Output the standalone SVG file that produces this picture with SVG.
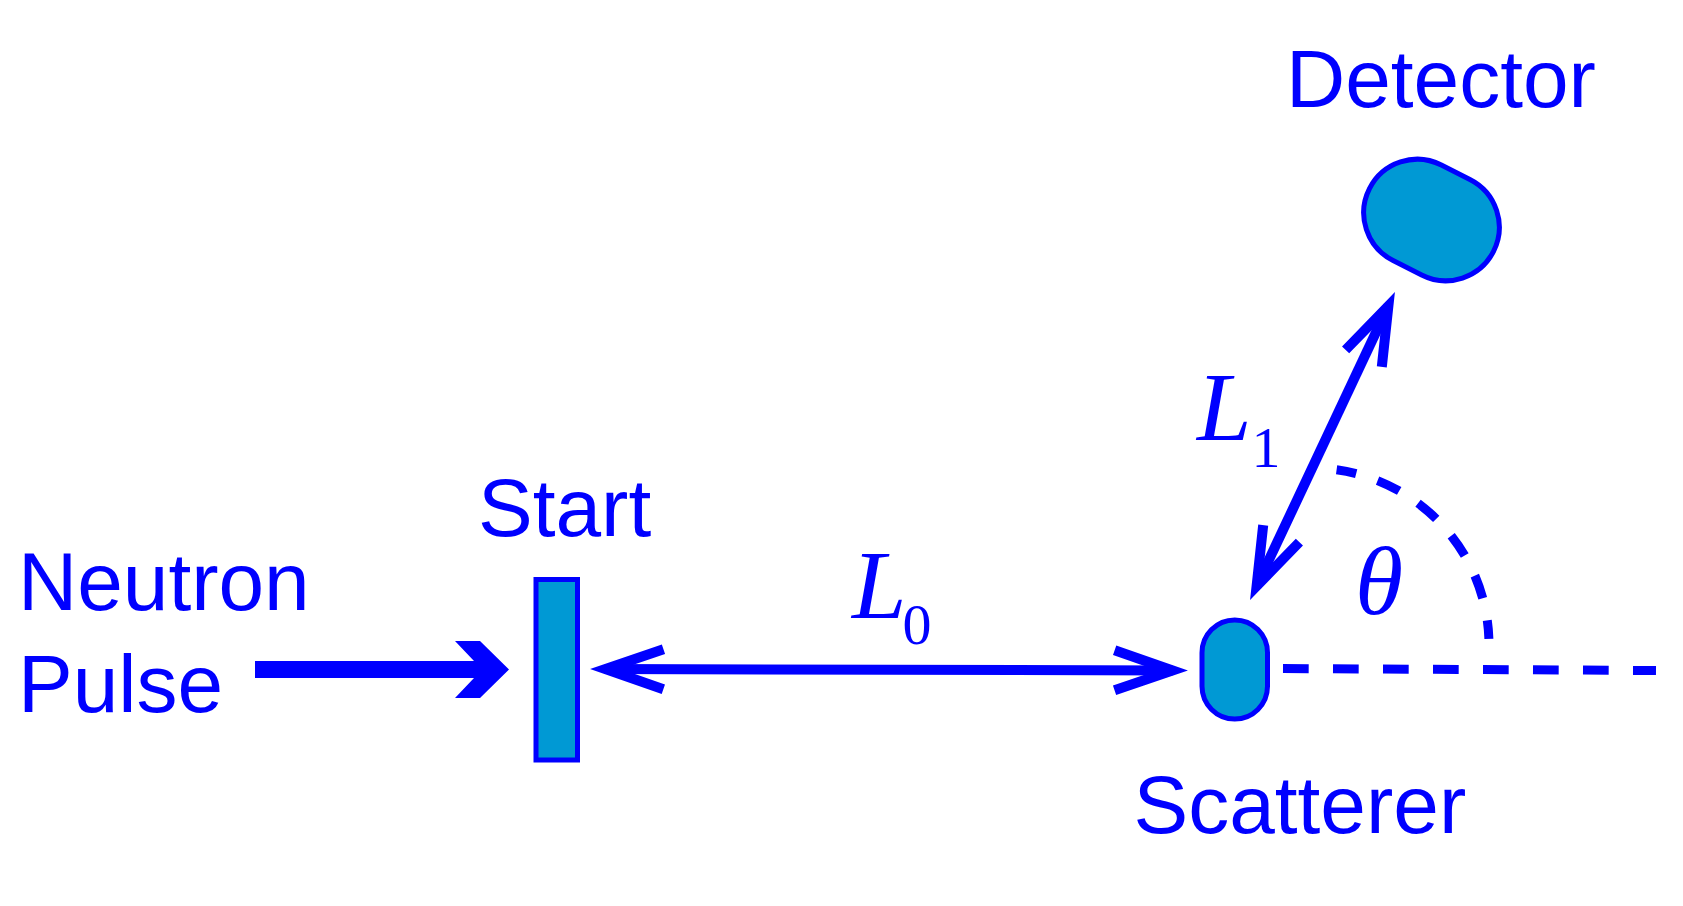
<svg xmlns="http://www.w3.org/2000/svg" width="1683" height="906" viewBox="0 0 1683 906">
  <style>
    .lbl { font-family: "Liberation Sans", Arial, sans-serif; font-size: 82px; fill: #0000FF; }
    .math { font-family: "Liberation Serif", "Times New Roman", serif; fill: #0000FF; font-size: 98px; }
    .it { font-style: italic; }
    .sub { font-size: 58px; font-style: normal; }
    .shape { fill: #0099D4; stroke: #0000FF; stroke-width: 5; }
    .conn { fill: none; stroke: #0000FF; stroke-width: 10; }
    .dash { fill: none; stroke: #0000FF; stroke-width: 9; }
  </style>
  <defs>
    <marker id="openArrow" markerUnits="userSpaceOnUse" orient="auto-start-reverse" refX="0" refY="0" viewBox="-80 -40 120 80" markerWidth="120" markerHeight="80" overflow="visible">
      <path d="M-58,-20 L0,0 L-58,20" fill="none" stroke="#0000FF" stroke-width="10" stroke-linejoin="miter" stroke-miterlimit="10"/>
    </marker>
  </defs>
  <rect width="1683" height="906" fill="#FFFFFF"/>

  <g id="connectors">
    <polygon id="pulse-arrow" points="255,661 474,661 455,641 480,641 509,669.5 480,698 455,698 474,678 255,678" fill="#0000FF"/>
    <line id="L0-line" class="conn" x1="605.4" y1="669" x2="1172.6" y2="670.5" marker-start="url(#openArrow)" marker-end="url(#openArrow)"/>
    <line id="L1-line" class="conn" x1="1256.6" y1="586.1" x2="1388.4" y2="305.9" marker-start="url(#openArrow)" marker-end="url(#openArrow)"/>
    <line id="beam-axis" class="dash" x1="1283" y1="668.5" x2="1656" y2="670.5" stroke-dasharray="25.7 24.3"/>
    <path id="theta-arc" class="dash" d="M1336.6,469.7 A177,177 0 0 1 1488.9,638.8" stroke-dasharray="24 22.5" stroke-dashoffset="4"/>
  </g>

  <g id="neutron-pulse">
    <text class="lbl" x="18" y="610">Neutron</text>
    <text class="lbl" x="18" y="711.5">Pulse</text>
  </g>

  <g id="start">
    <rect class="shape" x="536" y="579.5" width="41.5" height="180.5"/>
    <text class="lbl" x="478" y="536">Start</text>
  </g>

  <g id="scatterer">
    <rect class="shape" x="1202" y="620" width="65.5" height="99" rx="32.75" ry="32.75"/>
    <text class="lbl" x="1133.5" y="833.3">Scatterer</text>
  </g>

  <g id="detector">
    <rect class="shape" x="-69.5" y="-53.5" width="139" height="107" rx="53.5" ry="53.5" transform="translate(1431.5,220) rotate(26.8)"/>
    <text class="lbl" x="1286" y="107.3">Detector</text>
  </g>

  <g id="label-L0">
    <text class="math" x="852" y="618"><tspan class="it">L</tspan><tspan class="sub" dx="-4" dy="26">0</tspan></text>
  </g>

  <g id="label-L1">
    <text class="math" x="1197" y="440"><tspan class="it">L</tspan><tspan class="sub" dx="0" dy="26.7">1</tspan></text>
  </g>

  <g id="label-theta">
    <text class="math it" x="1355" y="614">θ</text>
  </g>
</svg>
